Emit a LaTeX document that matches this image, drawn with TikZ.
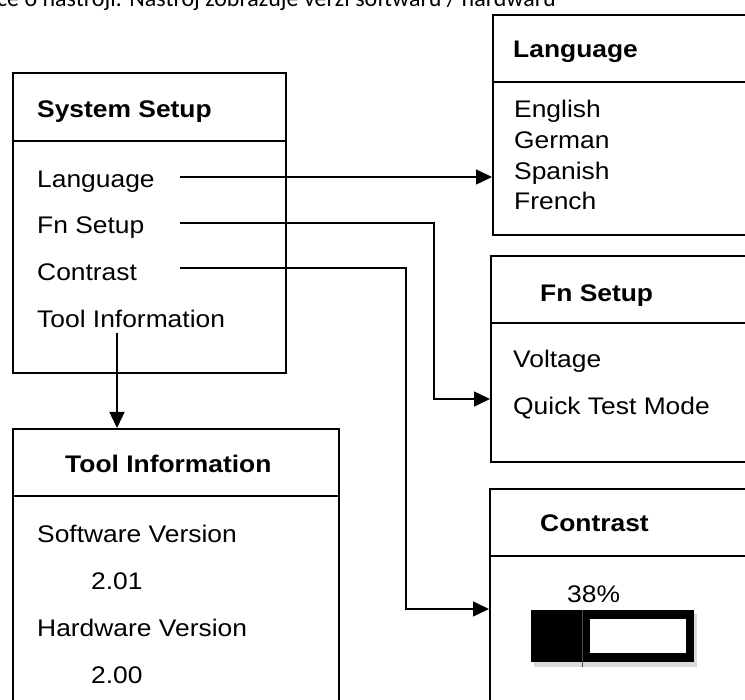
\documentclass[tikz,border=0pt]{standalone}
\usepackage{fontspec}
\setmainfont{Liberation Sans}[FakeStretch=1.1]
\newfontfamily\topfont{Carlito}
\usetikzlibrary{arrows.meta}
\begin{document}
\begin{tikzpicture}[x=1pt,y=-1pt,
  box/.style={draw, line width=1.7pt, rectangle, inner sep=0pt, anchor=north west},
  ttl/.style={anchor=base west, inner sep=0pt, font=\fontsize{24}{28}\selectfont\bfseries},
  itm/.style={anchor=base west, inner sep=0pt, font=\fontsize{24}{28}\selectfont},
  conn/.style={line width=1.5pt, -{Triangle[length=16pt,width=15pt]}},
  divider/.style={line width=1.7pt},
]
\useasboundingbox (0,0) rectangle (745,700);
\clip (0,0) rectangle (745,700);
\fill[white] (0,0) rectangle (745,700);

% line of text at the top, cut by the upper edge as in the reference
\node[anchor=base east, inner sep=0pt, font=\topfont\fontsize{24}{28}\selectfont] (topline) at (556,7) {Informace o nástroji: Nástroj zobrazuje verzi softwaru / hardwaru};

% boxes
\node[box, minimum width=273pt, minimum height=300pt] (sysbox) at (12,72) {};
\node[box, minimum width=270pt, minimum height=220pt] (langbox) at (492,14) {};
\node[box, minimum width=270pt, minimum height=206pt] (fnbox) at (490,255) {};
\node[box, minimum width=270pt, minimum height=240pt] (conbox) at (489,488) {};
\node[box, minimum width=326pt, minimum height=300pt] (toolbox) at (12,428) {};

\draw[divider] (sysbox.west |- 0,141) -- (sysbox.east |- 0,141);
\draw[divider] (langbox.west |- 0,82) -- (langbox.east |- 0,82);
\draw[divider] (fnbox.west |- 0,323) -- (fnbox.east |- 0,323);
\draw[divider] (conbox.west |- 0,556) -- (conbox.east |- 0,556);
\draw[divider] (toolbox.west |- 0,496) -- (toolbox.east |- 0,496);

% System Setup
\node[ttl] (sysT) at (37,118) {System Setup};
\node[itm] (sLang) at (37,188) {Language};
\node[itm] (sFn) at (37,234) {Fn Setup};
\node[itm] (sCon) at (37,281) {Contrast};
\node[itm] (sTool) at (37,328) {Tool Information};

% Language
\node[ttl] (lT) at (513,58) {Language};
\node[itm] (lEn) at (514,118) {English};
\node[itm] (lDe) at (514,149) {German};
\node[itm] (lEs) at (514,180) {Spanish};
\node[itm] (lFr) at (514,210) {French};

% Fn Setup
\node[ttl] (fT) at (540,302) {Fn Setup};
\node[itm] (fV) at (513,368) {Voltage};
\node[itm] (fQ) at (513,415) {Quick Test Mode};

% Contrast
\node[ttl] (cT) at (540,532) {Contrast};
\node[itm] (cP) at (567,602) {38\%};
\fill[gray!30] (534,614) rectangle (697,667);
\fill[black] (531,610) rectangle (694,662);
\fill[white] (590,619) rectangle (686,653);
\draw[black!70, line width=0.8pt] (582,610) -- (582,667);

% Tool Information
\node[ttl] (tT) at (65,473) {Tool Information};
\node[itm] (tS) at (37,543) {Software Version};
\node[itm] (tS1) at (91,590) {2.01};
\node[itm] (tH) at (37,637) {Hardware Version};
\node[itm] (tH1) at (91,683) {2.00};

% connectors
\coordinate (cLang) at (180,177);
\coordinate (cFn) at (180,223);
\coordinate (fnBend) at (434,399);
\coordinate (cCon) at (180,268);
\coordinate (conBend) at (406,609);
\coordinate (cTool) at (117,333);
\draw[conn] (cLang) -- (langbox.west |- cLang);
\draw[conn] (cFn) -| (fnBend) -- (fnbox.west |- fnBend);
\draw[conn] (cCon) -| (conBend) -- (conbox.west |- conBend);
\draw[conn] (cTool) -- (toolbox.north -| cTool);
\end{tikzpicture}
\end{document}
